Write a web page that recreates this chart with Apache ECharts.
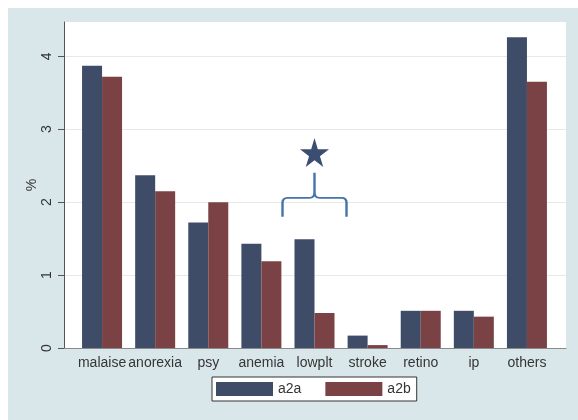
<!DOCTYPE html>
<html>
<head>
<meta charset="utf-8">
<script src="https://cdn.jsdelivr.net/npm/echarts@6/dist/echarts.min.js"></script>
<style>
  html, body { margin: 0; padding: 0; background: #ffffff; }
  #chart { width: 578px; height: 420px; }
</style>
</head>
<body>
<div id="chart"></div>
<script>
// Adverse-event frequencies (%) by arm
const categories = ['malaise', 'anorexia', 'psy', 'anemia', 'lowplt', 'stroke', 'retino', 'ip', 'others'];
const a2a = [3.87, 2.37, 1.72, 1.43, 1.49, 0.17, 0.51, 0.51, 4.26];
const a2b = [3.72, 2.15, 2.00, 1.19, 0.48, 0.04, 0.51, 0.43, 3.65];
const yTicks = [0, 1, 2, 3, 4];

// Significance marker over "lowplt": brace and star positions in data units
const markCategory = 'lowplt';
const braceLevel = 2.10;
const starLevel = 2.68;

const FONT = '"Liberation Sans", Arial, sans-serif';
const TEXT = '#353535';
const BLUE = '#3e4c67';
const RED = '#7a4244';
const Y_MAX = 4.47;

const chart = echarts.init(document.getElementById('chart'), null, { renderer: 'canvas' });

const starPath = 'path://M50,0 L61,35 L98,35 L68,57 L79,91 L50,70 L21,91 L32,57 L2,35 L39,35 Z';
const bracePath = 'path://M0,44 L0,30 Q0,25 5,25 L27,25 Q32,25 32,20 L32,0 M32,20 Q32,25 37,25 L59,25 Q64,25 64,30 L64,44';

chart.setOption({
  animation: false,
  backgroundColor: '#ffffff',
  graphic: [{
    type: 'rect',
    left: 8, top: 8,
    shape: { width: 570, height: 412 },
    style: { fill: '#dae7ea' },
    z: -10
  }],
  grid: [
    // plot region frame (white area with axes)
    { left: 64, right: 12, top: 22, bottom: 72, show: true, backgroundColor: '#ffffff', borderWidth: 0 },
    // bar region, inset by the outer gap
    { left: 75.5, right: 24.5, top: 22, bottom: 72 }
  ],
  xAxis: [
    {
      gridIndex: 0, type: 'category', data: categories,
      axisLine: { show: true, lineStyle: { color: '#8a8a8a', width: 1 } },
      axisTick: { show: false }, axisLabel: { show: false }, splitLine: { show: false }
    },
    {
      gridIndex: 1, type: 'category', data: categories,
      axisLine: { show: false }, axisTick: { show: false },
      axisLabel: { color: TEXT, fontFamily: FONT, fontSize: 14, margin: 8, interval: 0 }
    }
  ],
  yAxis: [
    {
      gridIndex: 0, type: 'value', min: 0, max: Y_MAX, interval: 1,
      name: '%', nameLocation: 'middle', nameRotate: 90, nameGap: 25, nameMoveOverlap: false,
      nameTextStyle: { color: TEXT, fontFamily: FONT, fontSize: 14 },
      axisLine: { show: true, lineStyle: { color: '#555555', width: 1 } },
      axisTick: { show: true, length: 6, lineStyle: { color: '#555555' }, customValues: yTicks },
      axisLabel: {
        rotate: 90, margin: 10, color: TEXT, fontFamily: FONT, fontSize: 14,
        customValues: yTicks,
        formatter: v => (Number.isInteger(v) ? String(v) : '')
      },
      splitLine: { show: true, lineStyle: { color: '#e8e8e8', width: 1 } }
    },
    {
      gridIndex: 1, type: 'value', min: 0, max: Y_MAX,
      show: false, splitLine: { show: false }
    }
  ],
  legend: {
    left: 212, top: 377,
    data: ['a2a', 'a2b'],
    icon: 'rect',
    itemWidth: 57, itemHeight: 14, itemGap: 24,
    padding: [5, 6, 5, 4],
    borderColor: '#333333', borderWidth: 1, backgroundColor: '#ffffff',
    textStyle: { color: TEXT, fontFamily: FONT, fontSize: 14 }
  },
  series: [
    {
      name: 'a2a', type: 'bar', xAxisIndex: 1, yAxisIndex: 1,
      data: a2a, barWidth: 20, barGap: '0%',
      itemStyle: { color: BLUE }
    },
    {
      name: 'a2b', type: 'bar', xAxisIndex: 1, yAxisIndex: 1,
      data: a2b, barWidth: 20, barGap: '0%',
      itemStyle: { color: RED }
    },
    {
      // carrier for the brace and star annotation, centred on the category
      name: 'annotation', type: 'scatter', xAxisIndex: 1, yAxisIndex: 1,
      data: [], silent: true,
      markPoint: {
        silent: true,
        label: { show: false },
        data: [
          {
            coord: [markCategory, starLevel], symbol: starPath, symbolSize: [29, 29],
            itemStyle: { color: '#3b4e72' }
          },
          {
            coord: [markCategory, braceLevel], symbol: bracePath, symbolSize: [64, 44],
            itemStyle: { color: 'rgba(0,0,0,0)', borderColor: '#4474aa', borderWidth: 2 }
          }
        ]
      }
    }
  ]
});
</script>
</body>
</html>
